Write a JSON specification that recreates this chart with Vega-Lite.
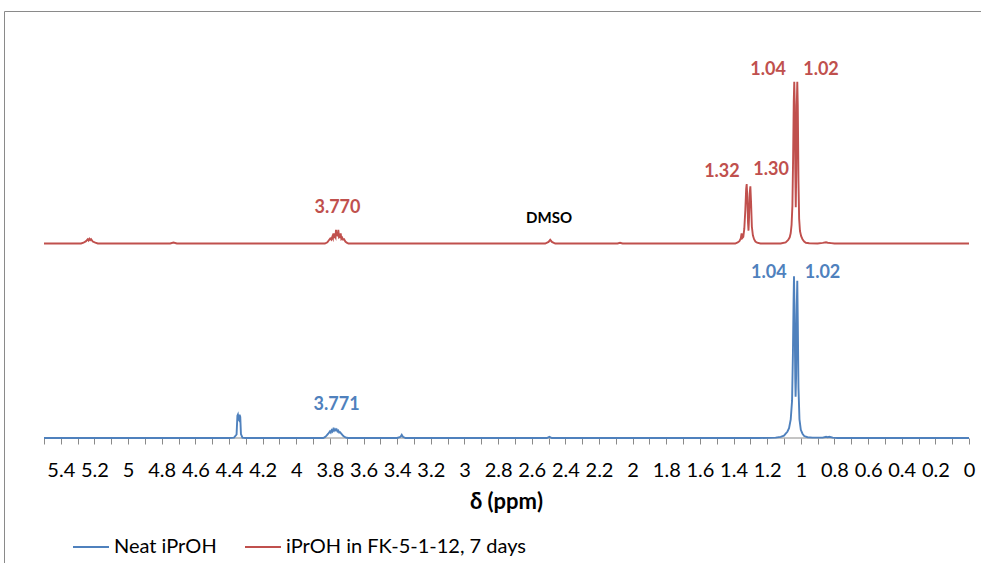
{
  "$schema": "https://vega.github.io/schema/vega-lite/v6.json",
  "autosize": {"type": "none"},
  "padding": {"left": 4, "top": 11, "right": -1, "bottom": -1},
  "width": 978,
  "height": 553,
  "background": "white",
  "config": {
    "view": {"stroke": "#8a8a8a", "strokeWidth": 1}
  },
  "data": {"values": [
      {"ppm": 5.5, "intensity": 0, "series": "Neat iPrOH"},
      {"ppm": 4.4, "intensity": 0, "series": "Neat iPrOH"},
      {"ppm": 4.37, "intensity": 0.1, "series": "Neat iPrOH"},
      {"ppm": 4.355, "intensity": 0.9, "series": "Neat iPrOH"},
      {"ppm": 4.35, "intensity": 5.7, "series": "Neat iPrOH"},
      {"ppm": 4.347, "intensity": 6.0, "series": "Neat iPrOH"},
      {"ppm": 4.343, "intensity": 4.8, "series": "Neat iPrOH"},
      {"ppm": 4.34, "intensity": 4.6, "series": "Neat iPrOH"},
      {"ppm": 4.337, "intensity": 6.0, "series": "Neat iPrOH"},
      {"ppm": 4.333, "intensity": 5.4, "series": "Neat iPrOH"},
      {"ppm": 4.329, "intensity": 1.0, "series": "Neat iPrOH"},
      {"ppm": 4.32, "intensity": 0.1, "series": "Neat iPrOH"},
      {"ppm": 4.3, "intensity": 0, "series": "Neat iPrOH"},
      {"ppm": 3.84, "intensity": 0, "series": "Neat iPrOH"},
      {"ppm": 3.83, "intensity": 0.2, "series": "Neat iPrOH"},
      {"ppm": 3.82, "intensity": 0.6, "series": "Neat iPrOH"},
      {"ppm": 3.81, "intensity": 1.1, "series": "Neat iPrOH"},
      {"ppm": 3.8, "intensity": 1.7, "series": "Neat iPrOH"},
      {"ppm": 3.795, "intensity": 1.4, "series": "Neat iPrOH"},
      {"ppm": 3.79, "intensity": 2.0, "series": "Neat iPrOH"},
      {"ppm": 3.785, "intensity": 1.7, "series": "Neat iPrOH"},
      {"ppm": 3.78, "intensity": 2.3, "series": "Neat iPrOH"},
      {"ppm": 3.775, "intensity": 1.9, "series": "Neat iPrOH"},
      {"ppm": 3.77, "intensity": 2.3, "series": "Neat iPrOH"},
      {"ppm": 3.765, "intensity": 2.0, "series": "Neat iPrOH"},
      {"ppm": 3.76, "intensity": 2.2, "series": "Neat iPrOH"},
      {"ppm": 3.755, "intensity": 1.7, "series": "Neat iPrOH"},
      {"ppm": 3.75, "intensity": 1.9, "series": "Neat iPrOH"},
      {"ppm": 3.745, "intensity": 1.4, "series": "Neat iPrOH"},
      {"ppm": 3.74, "intensity": 1.5, "series": "Neat iPrOH"},
      {"ppm": 3.73, "intensity": 1.0, "series": "Neat iPrOH"},
      {"ppm": 3.72, "intensity": 0.5, "series": "Neat iPrOH"},
      {"ppm": 3.71, "intensity": 0.2, "series": "Neat iPrOH"},
      {"ppm": 3.7, "intensity": 0.05, "series": "Neat iPrOH"},
      {"ppm": 3.69, "intensity": 0, "series": "Neat iPrOH"},
      {"ppm": 3.4, "intensity": 0, "series": "Neat iPrOH"},
      {"ppm": 3.38, "intensity": 0.3, "series": "Neat iPrOH"},
      {"ppm": 3.373, "intensity": 0.8, "series": "Neat iPrOH"},
      {"ppm": 3.366, "intensity": 0.3, "series": "Neat iPrOH"},
      {"ppm": 3.35, "intensity": 0, "series": "Neat iPrOH"},
      {"ppm": 2.51, "intensity": 0, "series": "Neat iPrOH"},
      {"ppm": 2.495, "intensity": 0.3, "series": "Neat iPrOH"},
      {"ppm": 2.48, "intensity": 0, "series": "Neat iPrOH"},
      {"ppm": 1.25, "intensity": 0, "series": "Neat iPrOH"},
      {"ppm": 1.15, "intensity": 0.1, "series": "Neat iPrOH"},
      {"ppm": 1.12, "intensity": 0.3, "series": "Neat iPrOH"},
      {"ppm": 1.1, "intensity": 0.6, "series": "Neat iPrOH"},
      {"ppm": 1.09, "intensity": 1.1, "series": "Neat iPrOH"},
      {"ppm": 1.08, "intensity": 1.6, "series": "Neat iPrOH"},
      {"ppm": 1.07, "intensity": 2.5, "series": "Neat iPrOH"},
      {"ppm": 1.06, "intensity": 4.8, "series": "Neat iPrOH"},
      {"ppm": 1.052, "intensity": 9.6, "series": "Neat iPrOH"},
      {"ppm": 1.047, "intensity": 21.5, "series": "Neat iPrOH"},
      {"ppm": 1.043, "intensity": 35.5, "series": "Neat iPrOH"},
      {"ppm": 1.0406, "intensity": 41.6, "series": "Neat iPrOH"},
      {"ppm": 1.037, "intensity": 32, "series": "Neat iPrOH"},
      {"ppm": 1.033, "intensity": 15, "series": "Neat iPrOH"},
      {"ppm": 1.031, "intensity": 10.6, "series": "Neat iPrOH"},
      {"ppm": 1.028, "intensity": 16, "series": "Neat iPrOH"},
      {"ppm": 1.024, "intensity": 34, "series": "Neat iPrOH"},
      {"ppm": 1.021, "intensity": 40.4, "series": "Neat iPrOH"},
      {"ppm": 1.018, "intensity": 30, "series": "Neat iPrOH"},
      {"ppm": 1.014, "intensity": 13, "series": "Neat iPrOH"},
      {"ppm": 1.008, "intensity": 4.8, "series": "Neat iPrOH"},
      {"ppm": 1.0, "intensity": 2.1, "series": "Neat iPrOH"},
      {"ppm": 0.99, "intensity": 1.1, "series": "Neat iPrOH"},
      {"ppm": 0.98, "intensity": 0.5, "series": "Neat iPrOH"},
      {"ppm": 0.96, "intensity": 0.2, "series": "Neat iPrOH"},
      {"ppm": 0.93, "intensity": 0.1, "series": "Neat iPrOH"},
      {"ppm": 0.87, "intensity": 0.1, "series": "Neat iPrOH"},
      {"ppm": 0.85, "intensity": 0.3, "series": "Neat iPrOH"},
      {"ppm": 0.84, "intensity": 0.2, "series": "Neat iPrOH"},
      {"ppm": 0.83, "intensity": 0.3, "series": "Neat iPrOH"},
      {"ppm": 0.81, "intensity": 0.1, "series": "Neat iPrOH"},
      {"ppm": 0.78, "intensity": 0, "series": "Neat iPrOH"},
      {"ppm": 0, "intensity": 0, "series": "Neat iPrOH"},
      {"ppm": 5.5, "intensity": 50, "series": "iPrOH in FK-5-1-12, 7 days"},
      {"ppm": 5.28, "intensity": 50, "series": "iPrOH in FK-5-1-12, 7 days"},
      {"ppm": 5.265, "intensity": 50.2, "series": "iPrOH in FK-5-1-12, 7 days"},
      {"ppm": 5.25, "intensity": 50.6, "series": "iPrOH in FK-5-1-12, 7 days"},
      {"ppm": 5.24, "intensity": 51.1, "series": "iPrOH in FK-5-1-12, 7 days"},
      {"ppm": 5.235, "intensity": 50.8, "series": "iPrOH in FK-5-1-12, 7 days"},
      {"ppm": 5.23, "intensity": 51.2, "series": "iPrOH in FK-5-1-12, 7 days"},
      {"ppm": 5.225, "intensity": 50.9, "series": "iPrOH in FK-5-1-12, 7 days"},
      {"ppm": 5.22, "intensity": 51.1, "series": "iPrOH in FK-5-1-12, 7 days"},
      {"ppm": 5.21, "intensity": 50.5, "series": "iPrOH in FK-5-1-12, 7 days"},
      {"ppm": 5.195, "intensity": 50.2, "series": "iPrOH in FK-5-1-12, 7 days"},
      {"ppm": 5.18, "intensity": 50, "series": "iPrOH in FK-5-1-12, 7 days"},
      {"ppm": 4.75, "intensity": 50, "series": "iPrOH in FK-5-1-12, 7 days"},
      {"ppm": 4.73, "intensity": 50.25, "series": "iPrOH in FK-5-1-12, 7 days"},
      {"ppm": 4.71, "intensity": 50, "series": "iPrOH in FK-5-1-12, 7 days"},
      {"ppm": 3.83, "intensity": 50, "series": "iPrOH in FK-5-1-12, 7 days"},
      {"ppm": 3.815, "intensity": 50.3, "series": "iPrOH in FK-5-1-12, 7 days"},
      {"ppm": 3.805, "intensity": 50.9, "series": "iPrOH in FK-5-1-12, 7 days"},
      {"ppm": 3.798, "intensity": 51.3, "series": "iPrOH in FK-5-1-12, 7 days"},
      {"ppm": 3.792, "intensity": 51.0, "series": "iPrOH in FK-5-1-12, 7 days"},
      {"ppm": 3.786, "intensity": 51.7, "series": "iPrOH in FK-5-1-12, 7 days"},
      {"ppm": 3.782, "intensity": 51.3, "series": "iPrOH in FK-5-1-12, 7 days"},
      {"ppm": 3.779, "intensity": 52.6, "series": "iPrOH in FK-5-1-12, 7 days"},
      {"ppm": 3.775, "intensity": 51.4, "series": "iPrOH in FK-5-1-12, 7 days"},
      {"ppm": 3.771, "intensity": 52.0, "series": "iPrOH in FK-5-1-12, 7 days"},
      {"ppm": 3.7665, "intensity": 51.6, "series": "iPrOH in FK-5-1-12, 7 days"},
      {"ppm": 3.764, "intensity": 53.5, "series": "iPrOH in FK-5-1-12, 7 days"},
      {"ppm": 3.76, "intensity": 51.9, "series": "iPrOH in FK-5-1-12, 7 days"},
      {"ppm": 3.757, "intensity": 52.5, "series": "iPrOH in FK-5-1-12, 7 days"},
      {"ppm": 3.753, "intensity": 51.9, "series": "iPrOH in FK-5-1-12, 7 days"},
      {"ppm": 3.75, "intensity": 53.5, "series": "iPrOH in FK-5-1-12, 7 days"},
      {"ppm": 3.746, "intensity": 51.7, "series": "iPrOH in FK-5-1-12, 7 days"},
      {"ppm": 3.742, "intensity": 51.9, "series": "iPrOH in FK-5-1-12, 7 days"},
      {"ppm": 3.739, "intensity": 51.4, "series": "iPrOH in FK-5-1-12, 7 days"},
      {"ppm": 3.736, "intensity": 52.6, "series": "iPrOH in FK-5-1-12, 7 days"},
      {"ppm": 3.732, "intensity": 51.2, "series": "iPrOH in FK-5-1-12, 7 days"},
      {"ppm": 3.727, "intensity": 51.5, "series": "iPrOH in FK-5-1-12, 7 days"},
      {"ppm": 3.722, "intensity": 51.0, "series": "iPrOH in FK-5-1-12, 7 days"},
      {"ppm": 3.716, "intensity": 51.1, "series": "iPrOH in FK-5-1-12, 7 days"},
      {"ppm": 3.708, "intensity": 50.5, "series": "iPrOH in FK-5-1-12, 7 days"},
      {"ppm": 3.7, "intensity": 50.2, "series": "iPrOH in FK-5-1-12, 7 days"},
      {"ppm": 3.69, "intensity": 50, "series": "iPrOH in FK-5-1-12, 7 days"},
      {"ppm": 2.52, "intensity": 50, "series": "iPrOH in FK-5-1-12, 7 days"},
      {"ppm": 2.5, "intensity": 50.4, "series": "iPrOH in FK-5-1-12, 7 days"},
      {"ppm": 2.49, "intensity": 50.95, "series": "iPrOH in FK-5-1-12, 7 days"},
      {"ppm": 2.48, "intensity": 50.4, "series": "iPrOH in FK-5-1-12, 7 days"},
      {"ppm": 2.46, "intensity": 50, "series": "iPrOH in FK-5-1-12, 7 days"},
      {"ppm": 2.09, "intensity": 50, "series": "iPrOH in FK-5-1-12, 7 days"},
      {"ppm": 2.075, "intensity": 50.2, "series": "iPrOH in FK-5-1-12, 7 days"},
      {"ppm": 2.06, "intensity": 50, "series": "iPrOH in FK-5-1-12, 7 days"},
      {"ppm": 1.39, "intensity": 50, "series": "iPrOH in FK-5-1-12, 7 days"},
      {"ppm": 1.375, "intensity": 50.3, "series": "iPrOH in FK-5-1-12, 7 days"},
      {"ppm": 1.365, "intensity": 50.6, "series": "iPrOH in FK-5-1-12, 7 days"},
      {"ppm": 1.357, "intensity": 51.3, "series": "iPrOH in FK-5-1-12, 7 days"},
      {"ppm": 1.352, "intensity": 52.6, "series": "iPrOH in FK-5-1-12, 7 days"},
      {"ppm": 1.348, "intensity": 51.4, "series": "iPrOH in FK-5-1-12, 7 days"},
      {"ppm": 1.342, "intensity": 51.7, "series": "iPrOH in FK-5-1-12, 7 days"},
      {"ppm": 1.336, "intensity": 53.8, "series": "iPrOH in FK-5-1-12, 7 days"},
      {"ppm": 1.33, "intensity": 58.6, "series": "iPrOH in FK-5-1-12, 7 days"},
      {"ppm": 1.325, "intensity": 64.0, "series": "iPrOH in FK-5-1-12, 7 days"},
      {"ppm": 1.322, "intensity": 65.3, "series": "iPrOH in FK-5-1-12, 7 days"},
      {"ppm": 1.318, "intensity": 61.8, "series": "iPrOH in FK-5-1-12, 7 days"},
      {"ppm": 1.314, "intensity": 55.4, "series": "iPrOH in FK-5-1-12, 7 days"},
      {"ppm": 1.311, "intensity": 53.3, "series": "iPrOH in FK-5-1-12, 7 days"},
      {"ppm": 1.308, "intensity": 56.5, "series": "iPrOH in FK-5-1-12, 7 days"},
      {"ppm": 1.304, "intensity": 62.9, "series": "iPrOH in FK-5-1-12, 7 days"},
      {"ppm": 1.3, "intensity": 64.7, "series": "iPrOH in FK-5-1-12, 7 days"},
      {"ppm": 1.296, "intensity": 60.7, "series": "iPrOH in FK-5-1-12, 7 days"},
      {"ppm": 1.291, "intensity": 54.3, "series": "iPrOH in FK-5-1-12, 7 days"},
      {"ppm": 1.285, "intensity": 52.1, "series": "iPrOH in FK-5-1-12, 7 days"},
      {"ppm": 1.278, "intensity": 51.1, "series": "iPrOH in FK-5-1-12, 7 days"},
      {"ppm": 1.27, "intensity": 50.5, "series": "iPrOH in FK-5-1-12, 7 days"},
      {"ppm": 1.26, "intensity": 50.2, "series": "iPrOH in FK-5-1-12, 7 days"},
      {"ppm": 1.24, "intensity": 50, "series": "iPrOH in FK-5-1-12, 7 days"},
      {"ppm": 1.12, "intensity": 50, "series": "iPrOH in FK-5-1-12, 7 days"},
      {"ppm": 1.09, "intensity": 50.3, "series": "iPrOH in FK-5-1-12, 7 days"},
      {"ppm": 1.075, "intensity": 50.9, "series": "iPrOH in FK-5-1-12, 7 days"},
      {"ppm": 1.066, "intensity": 51.6, "series": "iPrOH in FK-5-1-12, 7 days"},
      {"ppm": 1.06, "intensity": 52.7, "series": "iPrOH in FK-5-1-12, 7 days"},
      {"ppm": 1.055, "intensity": 54.8, "series": "iPrOH in FK-5-1-12, 7 days"},
      {"ppm": 1.05, "intensity": 59.7, "series": "iPrOH in FK-5-1-12, 7 days"},
      {"ppm": 1.046, "intensity": 71.5, "series": "iPrOH in FK-5-1-12, 7 days"},
      {"ppm": 1.042, "intensity": 86.5, "series": "iPrOH in FK-5-1-12, 7 days"},
      {"ppm": 1.039, "intensity": 91.6, "series": "iPrOH in FK-5-1-12, 7 days"},
      {"ppm": 1.036, "intensity": 85.5, "series": "iPrOH in FK-5-1-12, 7 days"},
      {"ppm": 1.033, "intensity": 69.3, "series": "iPrOH in FK-5-1-12, 7 days"},
      {"ppm": 1.03, "intensity": 59.3, "series": "iPrOH in FK-5-1-12, 7 days"},
      {"ppm": 1.027, "intensity": 69.3, "series": "iPrOH in FK-5-1-12, 7 days"},
      {"ppm": 1.024, "intensity": 85.5, "series": "iPrOH in FK-5-1-12, 7 days"},
      {"ppm": 1.021, "intensity": 91.6, "series": "iPrOH in FK-5-1-12, 7 days"},
      {"ppm": 1.018, "intensity": 85.5, "series": "iPrOH in FK-5-1-12, 7 days"},
      {"ppm": 1.014, "intensity": 66.1, "series": "iPrOH in FK-5-1-12, 7 days"},
      {"ppm": 1.01, "intensity": 56.4, "series": "iPrOH in FK-5-1-12, 7 days"},
      {"ppm": 1.005, "intensity": 53.2, "series": "iPrOH in FK-5-1-12, 7 days"},
      {"ppm": 0.998, "intensity": 51.9, "series": "iPrOH in FK-5-1-12, 7 days"},
      {"ppm": 0.99, "intensity": 51.1, "series": "iPrOH in FK-5-1-12, 7 days"},
      {"ppm": 0.98, "intensity": 50.5, "series": "iPrOH in FK-5-1-12, 7 days"},
      {"ppm": 0.97, "intensity": 50.2, "series": "iPrOH in FK-5-1-12, 7 days"},
      {"ppm": 0.95, "intensity": 50.05, "series": "iPrOH in FK-5-1-12, 7 days"},
      {"ppm": 0.9, "intensity": 50, "series": "iPrOH in FK-5-1-12, 7 days"},
      {"ppm": 0.87, "intensity": 50.15, "series": "iPrOH in FK-5-1-12, 7 days"},
      {"ppm": 0.85, "intensity": 50.3, "series": "iPrOH in FK-5-1-12, 7 days"},
      {"ppm": 0.84, "intensity": 50.2, "series": "iPrOH in FK-5-1-12, 7 days"},
      {"ppm": 0.82, "intensity": 50.1, "series": "iPrOH in FK-5-1-12, 7 days"},
      {"ppm": 0.8, "intensity": 50, "series": "iPrOH in FK-5-1-12, 7 days"},
      {"ppm": 0, "intensity": 50, "series": "iPrOH in FK-5-1-12, 7 days"}
  ]},
  "encoding": {
    "x": {
      "field": "ppm",
      "type": "quantitative",
      "scale": {"domain": [-0.0773, 5.73784], "reverse": true, "nice": false, "zero": false},
      "axis": {
        "orient": "bottom",
        "offset": -126,
        "values": [5.5, 5.4, 5.3, 5.2, 5.1, 5, 4.9, 4.8, 4.7, 4.6, 4.5, 4.4, 4.3, 4.2, 4.1, 4, 3.9, 3.8, 3.7, 3.6, 3.5, 3.4, 3.3, 3.2, 3.1, 3, 2.9, 2.8, 2.7, 2.6, 2.5, 2.4, 2.3, 2.2, 2.1, 2, 1.9, 1.8, 1.7, 1.6, 1.5, 1.4, 1.3, 1.2, 1.1, 1, 0.9, 0.8, 0.7, 0.6, 0.5, 0.4, 0.3, 0.2, 0.1, 0],
        "labelExpr": "round(datum.value*10)%2==0 ? format(datum.value, '~g') : ''",
        "labelOverlap": false,
        "labelBound": false,
        "labelFlush": false,
        "domain": false,
        "grid": false,
        "tickColor": "#8a8a8a",
        "tickSize": 6,
        "tickWidth": 1,
        "labelFont": "Lato",
        "labelFontSize": 20,
        "labelColor": "#000000",
        "labelPadding": 16,
        "title": "δ (ppm)",
        "titleFont": "Lato",
        "titleFontSize": 22,
        "titleFontWeight": "bold",
        "titleColor": "#000000",
        "titlePadding": 11,
        "titleX": 502
      }
    },
    "y": {
      "field": "intensity",
      "type": "quantitative",
      "scale": {"domain": [-32.39, 109.77], "nice": false, "zero": false},
      "axis": null
    }
  },
  "layer": [
    {
      "data": {"values": [{"ppm": 5.5, "end": 0, "intensity": 0}]},
      "mark": {"type": "rule", "color": "#8a8a8a", "strokeWidth": 1},
      "encoding": {
        "x2": {"field": "end"}
      }
    },
    {
      "mark": {"type": "line", "strokeWidth": 1.9},
      "encoding": {
        "color": {
          "field": "series",
          "type": "nominal",
          "scale": {"domain": ["Neat iPrOH", "iPrOH in FK-5-1-12, 7 days"], "range": ["#4F81BD", "#C0504D"]},
          "legend": {
            "orient": "none",
            "legendX": 68,
            "legendY": 517,
            "direction": "horizontal",
            "title": null,
            "symbolType": "stroke",
            "symbolSize": 1296,
            "symbolStrokeWidth": 2,
            "labelFont": "Lato",
            "labelFontSize": 20,
            "labelColor": "#000000",
            "labelOffset": 4,
            "columnPadding": 24,
            "labelLimit": 400
          }
        }
      }
    },
    {
      "data": {"values": [
        {"ppm": 1.195, "intensity": 94.7, "label": "1.04"},
        {"ppm": 0.88, "intensity": 94.7, "label": "1.02"},
        {"ppm": 1.469, "intensity": 68.4, "label": "1.32"},
        {"ppm": 1.177, "intensity": 68.9, "label": "1.30"},
        {"ppm": 3.755, "intensity": 59.0, "label": "3.770"}
      ]},
      "mark": {"type": "text", "color": "#C0504D", "font": "Lato", "fontSize": 18, "fontWeight": "bold", "baseline": "middle", "align": "center"},
      "encoding": {
        "text": {"field": "label", "type": "nominal"}
      }
    },
    {
      "data": {"values": [
        {"ppm": 1.19, "intensity": 42.5, "label": "1.04"},
        {"ppm": 0.871, "intensity": 42.5, "label": "1.02"},
        {"ppm": 3.76, "intensity": 8.5, "label": "3.771"}
      ]},
      "mark": {"type": "text", "color": "#4F81BD", "font": "Lato", "fontSize": 18, "fontWeight": "bold", "baseline": "middle", "align": "center"},
      "encoding": {
        "text": {"field": "label", "type": "nominal"}
      }
    },
    {
      "data": {"values": [
        {"ppm": 2.497, "intensity": 56.6, "label": "DMSO"}
      ]},
      "mark": {"type": "text", "color": "#000000", "font": "Lato", "fontSize": 15, "fontWeight": "bold", "baseline": "middle", "align": "center"},
      "encoding": {
        "text": {"field": "label", "type": "nominal"}
      }
    }
  ]
}
